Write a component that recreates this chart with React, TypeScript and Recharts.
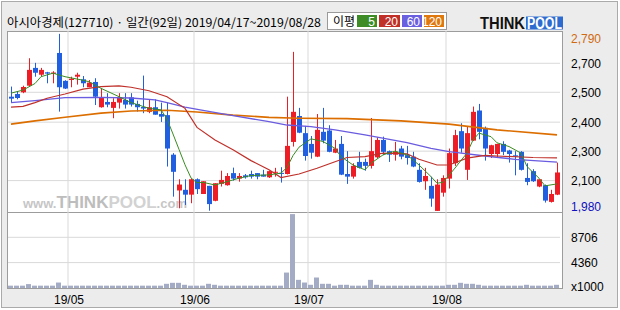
import React from 'react'
import { ComposedChart, Bar, Line, XAxis, YAxis, CartesianGrid } from 'recharts'

// daily candles 2019/04/17 ~ 2019/08/28 (92 trading days)
const opens = [
  2500, 2512, 2520, 2550, 2631, 2600, 2611, 2604, 2699, 2572,
  2576, 2591, 2579, 2543, 2567, 2452, 2476, 2449, 2473, 2485,
  2497, 2467, 2453, 2431, 2452, 2421, 2416, 2236, 2073, 2076,
  2054, 2124, 2057, 2094, 2026, 2103, 2097, 2152, 2127, 2142,
  2148, 2152, 2145, 2133, 2155, 2153, 2148, 2294, 2412, 2334,
  2285, 2227, 2340, 2346, 2245, 2285, 2148, 2136, 2203, 2203,
  2185, 2224, 2303, 2252, 2236, 2264, 2234, 2227, 2167, 2115,
  2094, 1980, 2063, 2127, 2197, 2343, 2167, 2300, 2437, 2358,
  2239, 2239, 2285, 2255, 2233, 2249, 2130, 2161, 2091, 2097,
  2021, 2054,
]
const highs = [
  2546, 2525, 2550, 2675, 2654, 2631, 2613, 2616, 2786, 2575,
  2591, 2609, 2594, 2576, 2584, 2537, 2516, 2493, 2516, 2516,
  2516, 2482, 2596, 2485, 2488, 2473, 2473, 2243, 2124, 2124,
  2128, 2128, 2115, 2094, 2106, 2163, 2152, 2177, 2152, 2148,
  2163, 2152, 2167, 2163, 2176, 2179, 2500, 2704, 2449, 2367,
  2321, 2421, 2449, 2370, 2303, 2321, 2252, 2197, 2249, 2218,
  2403, 2315, 2318, 2255, 2294, 2276, 2276, 2249, 2197, 2176,
  2136, 2124, 2142, 2264, 2349, 2379, 2364, 2455, 2467, 2364,
  2281, 2285, 2297, 2258, 2252, 2252, 2197, 2170, 2124, 2100,
  2076, 2200,
]
const lows = [
  2473, 2488, 2516, 2548, 2591, 2591, 2561, 2561, 2432, 2535,
  2543, 2555, 2543, 2543, 2462, 2450, 2452, 2402, 2446, 2446,
  2455, 2432, 2425, 2425, 2418, 2385, 2182, 2045, 1992, 2007,
  2015, 2057, 2057, 1981, 2024, 2091, 2095, 2118, 2113, 2127,
  2127, 2124, 2136, 2130, 2136, 2109, 2146, 2273, 2334, 2209,
  2218, 2225, 2288, 2247, 2243, 2143, 2103, 2127, 2173, 2163,
  2173, 2218, 2234, 2203, 2209, 2215, 2191, 2179, 2109, 2076,
  1999, 1980, 2045, 2082, 2185, 2245, 2121, 2298, 2306, 2209,
  2221, 2221, 2234, 2200, 2142, 2164, 2097, 2112, 2088, 2018,
  2018, 2052,
]
const closes = [
  2491, 2494, 2544, 2622, 2609, 2622, 2605, 2610, 2543, 2537,
  2582, 2600, 2561, 2564, 2500, 2497, 2464, 2476, 2497, 2464,
  2464, 2452, 2446, 2452, 2418, 2409, 2264, 2158, 2100, 2054,
  2124, 2079, 2115, 2011, 2106, 2121, 2139, 2127, 2139, 2133,
  2136, 2136, 2136, 2161, 2158, 2151, 2276, 2431, 2336, 2230,
  2245, 2349, 2300, 2249, 2264, 2145, 2136, 2185, 2176, 2185,
  2252, 2303, 2249, 2236, 2249, 2227, 2221, 2182, 2112, 2139,
  2036, 2100, 2130, 2243, 2325, 2264, 2334, 2431, 2340, 2264,
  2279, 2285, 2249, 2239, 2228, 2167, 2112, 2115, 2124, 2027,
  2057, 2155,
]
// volume, thousand shares
const volumes = [
  400, 400, 400, 670, 400, 400, 400, 400, 940, 400,
  400, 400, 400, 400, 400, 400, 400, 400, 400, 400,
  400, 400, 400, 400, 400, 400, 720, 890, 890, 550,
  400, 400, 400, 720, 550, 400, 400, 400, 400, 400,
  400, 400, 400, 400, 400, 400, 2650, 12690, 1400, 940,
  550, 1800, 720, 720, 400, 550, 550, 400, 400, 400,
  1400, 550, 400, 400, 400, 400, 400, 400, 400, 400,
  400, 400, 400, 550, 550, 890, 720, 720, 550, 400,
  400, 400, 400, 400, 400, 400, 550, 400, 400, 400,
  400, 550,
]

// moving averages: [day index, value]
const ma5Pts: [number, number][] = [
  [0, 2516], [2, 2530], [4, 2560], [5, 2591], [7, 2607], [9, 2591], [12, 2575], [13, 2568],
  [15, 2538], [18, 2500], [20, 2473], [23, 2447], [25, 2440], [26, 2398], [27, 2330], [28, 2260],
  [29, 2190], [30, 2130], [31, 2108], [32, 2110], [34, 2098], [36, 2113], [38, 2129], [40, 2141],
  [43, 2144], [45, 2152], [46, 2178], [47, 2232], [48, 2270], [50, 2308], [52, 2296], [54, 2265],
  [55, 2227], [57, 2189], [59, 2167], [60, 2197], [62, 2235], [64, 2252], [66, 2235], [68, 2189],
  [70, 2136], [71, 2106], [72, 2110], [74, 2175], [75, 2210], [76, 2243], [77, 2303], [78, 2334],
  [80, 2318], [81, 2290], [83, 2273], [85, 2243], [86, 2182], [88, 2129], [89, 2094], [91, 2103],
]
const ma20Pts: [number, number][] = [
  [0, 2452], [2, 2456], [4, 2473], [6, 2493], [9, 2512], [12, 2534], [15, 2546], [18, 2549],
  [20, 2543], [23, 2527], [26, 2500], [29, 2447], [31, 2360], [34, 2303], [37, 2258], [40, 2209],
  [43, 2167], [45, 2132], [48, 2148], [51, 2174], [54, 2204], [56, 2223], [59, 2227], [62, 2243],
  [66, 2240], [68, 2215], [71, 2189], [73, 2189], [76, 2220], [79, 2233], [81, 2230], [87, 2223],
  [91, 2221],
]
const ma60Pts: [number, number][] = [
  [0, 2473], [4, 2482], [9, 2496], [15, 2497], [20, 2494], [24, 2485], [26, 2473], [29, 2452],
  [32, 2438], [37, 2414], [43, 2386], [46, 2371], [50, 2364], [54, 2349], [59, 2326], [66, 2291],
  [70, 2265], [73, 2250], [79, 2230], [84, 2215], [91, 2202],
]
const ma120Pts: [number, number][] = [
  [0, 2375], [4, 2390], [9, 2406], [15, 2425], [20, 2435], [26, 2438], [31, 2430], [37, 2416],
  [43, 2406], [48, 2402], [56, 2400], [65, 2390], [73, 2375], [81, 2349], [91, 2326],
]

const monthTicks = [9.5, 30.5, 49.5, 72.5]
const monthLabels = ['19/05', '19/06', '19/07', '19/08']
const priceTicks = [2765, 2652, 2520, 2384, 2252, 2118, 1998]
const priceLabels = ['2,790', '2,700', '2,500', '2,400', '2,300', '2,100', '1,980']
const priceGrid = [2652, 2520, 2384, 2252, 2118]
const volTicks = [8706, 4360, 0]
const volLabels = ['8706', '4360', 'x1000']
const volGrid = [4360, 8706]

const UP = '#ee1c24'
const DOWN = '#1f5fe0'
const C5 = '#3a8c22'
const C20 = '#c0302a'
const C60 = '#6a5ce0'
const C120 = '#dc6e00'

type Row = {
  i: number; open: number; high: number; low: number; close: number; vol: number
  ma5?: number; ma20?: number; ma60?: number; ma120?: number
}

const rows: Row[] = opens.map((o, i) => ({
  i, open: o, high: highs[i], low: lows[i], close: closes[i], vol: volumes[i],
}))
ma5Pts.forEach(([i, v]) => { rows[i].ma5 = v })
ma20Pts.forEach(([i, v]) => { rows[i].ma20 = v })
ma60Pts.forEach(([i, v]) => { rows[i].ma60 = v })
ma120Pts.forEach(([i, v]) => { rows[i].ma120 = v })

function Candle(props: any) {
  const { x, y, width, height, payload } = props
  if (!payload || x == null) return null
  const { open, close, high, low } = payload
  const color = close >= open ? UP : DOWN
  const cx = Math.round(x + width / 2)
  const h = Math.abs(height)
  const top = height >= 0 ? y : y + height
  const k = high - low > 0 ? h / (high - low) : 0
  const yo = top + (high - open) * k
  const yc = top + (high - close) * k
  const bTop = Math.min(yo, yc)
  const bH = Math.max(1, Math.abs(yo - yc))
  return (
    <g>
      <rect x={cx} y={top} width={1} height={Math.max(1, h)} fill={color} />
      <rect x={cx - 2} y={bTop} width={5} height={bH} fill={color} />
    </g>
  )
}

function PriceTick(props: any) {
  const { x, y, payload } = props
  const idx = priceTicks.indexOf(payload.value)
  const color = idx === 0 ? '#d06a10' : idx === priceTicks.length - 1 ? '#1010c0' : '#000'
  return (
    <text x={x + 3} y={y + 4.5} fontSize={12} fill={color} textAnchor="start">
      {priceLabels[idx]}
    </text>
  )
}

function VolTick(props: any) {
  const { x, y, payload } = props
  const idx = volTicks.indexOf(payload.value)
  return (
    <text x={x + 3} y={y + 4.5 - (payload.value === 0 ? 2 : 0)} fontSize={12} fill="#000" textAnchor="start">
      {volLabels[idx]}
    </text>
  )
}

function MonthTick(props: any) {
  const { x, y, payload } = props
  const idx = monthTicks.indexOf(payload.value)
  return (
    <text x={x + 1} y={y + 8} fontSize={12} fill="#000" textAnchor="middle">
      {monthLabels[idx]}
    </text>
  )
}

const maLegend = [
  { label: '5', color: '#3d8c28', x0: 357, x1: 377 },
  { label: '20', color: '#c03028', x0: 379, x1: 400 },
  { label: '60', color: '#6b60e0', x0: 402, x1: 422 },
  { label: '120', color: '#e07810', x0: 424, x1: 444 },
]

export default function App() {
  return (
    <div style={{ position: 'absolute', left: 0, top: 0, width: 620, height: 310, background: '#fff', fontFamily: 'Arial, "Liberation Sans", sans-serif' }}>
      <div style={{ position: 'absolute', left: 1, top: 1, width: 617, height: 307, boxSizing: 'border-box', border: '1px solid #aaa', background: '#ececec' }} />
      <div style={{ position: 'absolute', left: 7, top: 31, width: 556, height: 258, boxSizing: 'border-box', border: '1px solid #9c9c9c', background: '#fff' }} />
      <div style={{ position: 'absolute', left: 7, top: 212, width: 556, height: 1, background: '#9c9c9c' }} />

      {/* watermark */}
      <svg style={{ position: 'absolute', left: 0, top: 0 }} width={620} height={310}>
        <text x={23} y={208} fontWeight="bold" fill="#c6c6c6">
          <tspan fontSize={13}>www.</tspan>
          <tspan fontSize={17} fill="#bdbdbd">THINK</tspan>
          <tspan fontSize={17} fill="#d2d2d2">POOL</tspan>
          <tspan fontSize={13}>.com</tspan>
        </text>
      </svg>

      <div style={{ position: 'absolute', left: 0, top: 0 }}>
        <ComposedChart width={620} height={224} data={rows} margin={{ top: 31, right: 0, bottom: 12, left: 8 }}>
          <CartesianGrid stroke="#d9d9d9" horizontalValues={priceGrid} verticalValues={monthTicks} />
          <XAxis dataKey="i" type="number" domain={[-0.5, 91.5]} allowDataOverflow hide />
          <YAxis orientation="right" width={60} domain={[1975, 2799]} allowDataOverflow ticks={priceTicks} interval={0}
            axisLine={false} tickLine={false} tick={(p: any) => <PriceTick {...p} />} />
          <Bar dataKey={(d: Row) => [d.low, d.high]} barSize={5} shape={(p: any) => <Candle {...p} />} isAnimationActive={false} />
          <Line type="linear" dataKey="ma120" stroke={C120} strokeWidth={1.6} dot={false} connectNulls isAnimationActive={false} />
          <Line type="linear" dataKey="ma60" stroke={C60} strokeWidth={1.3} dot={false} connectNulls isAnimationActive={false} />
          <Line type="linear" dataKey="ma20" stroke={C20} strokeWidth={1.2} dot={false} connectNulls isAnimationActive={false} />
          <Line type="linear" dataKey="ma5" stroke={C5} strokeWidth={1} dot={false} connectNulls isAnimationActive={false} />
        </ComposedChart>
      </div>

      <div style={{ position: 'absolute', left: 0, top: 212 }}>
        <ComposedChart width={620} height={98} data={rows} margin={{ top: 0, right: 0, bottom: 0, left: 8 }}>
          <CartesianGrid stroke="#d9d9d9" horizontalValues={volGrid} verticalValues={monthTicks} />
          <XAxis dataKey="i" type="number" domain={[-0.5, 91.5]} allowDataOverflow ticks={monthTicks} interval={0} height={22}
            axisLine={false} tickLine={false} tick={(p: any) => <MonthTick {...p} />} />
          <YAxis orientation="right" width={60} domain={[0, 13050]} allowDataOverflow ticks={volTicks} interval={0}
            axisLine={false} tickLine={false} tick={(p: any) => <VolTick {...p} />} />
          <Bar dataKey="vol" fill="#a3abc5" barSize={5} isAnimationActive={false} />
        </ComposedChart>
      </div>

      {/* header */}
      <svg style={{ position: 'absolute', left: 0, top: 0 }} width={620} height={31}>
        <text x={7} y={27} fontSize={12} fontFamily='"Noto Sans CJK KR", sans-serif' fill="#000" textLength={314} lengthAdjust="spacingAndGlyphs">
          아시아경제(127710) · 일간(92일) 2019/04/17~2019/08/28
        </text>
        <rect x={327.5} y={12.5} width={119} height={17} fill="#fff" stroke="#9a9a9a" />
        <text x={333} y={26} fontSize={12} fontFamily='"Noto Sans CJK KR", sans-serif' fill="#000">이평</text>
        {maLegend.map(m => (
          <g key={m.label}>
            <rect x={m.x0} y={15} width={m.x1 - m.x0} height={12} fill={m.color} />
            <text x={m.x1 - 2} y={25.5} fontSize={12} fill="#fff" textAnchor="end">{m.label}</text>
          </g>
        ))}
        <text x={480} y={29} fontSize={16} fontWeight="bold" fill="#111" textLength={45} lengthAdjust="spacingAndGlyphs">THINK</text>
        <rect x={526} y={16.5} width={37} height={13} fill="#2d6bd0" />
        <text x={527} y={29} fontSize={16} fontWeight="bold" fill="#fff" textLength={35} lengthAdjust="spacingAndGlyphs">POOL</text>
      </svg>
    </div>
  )
}
